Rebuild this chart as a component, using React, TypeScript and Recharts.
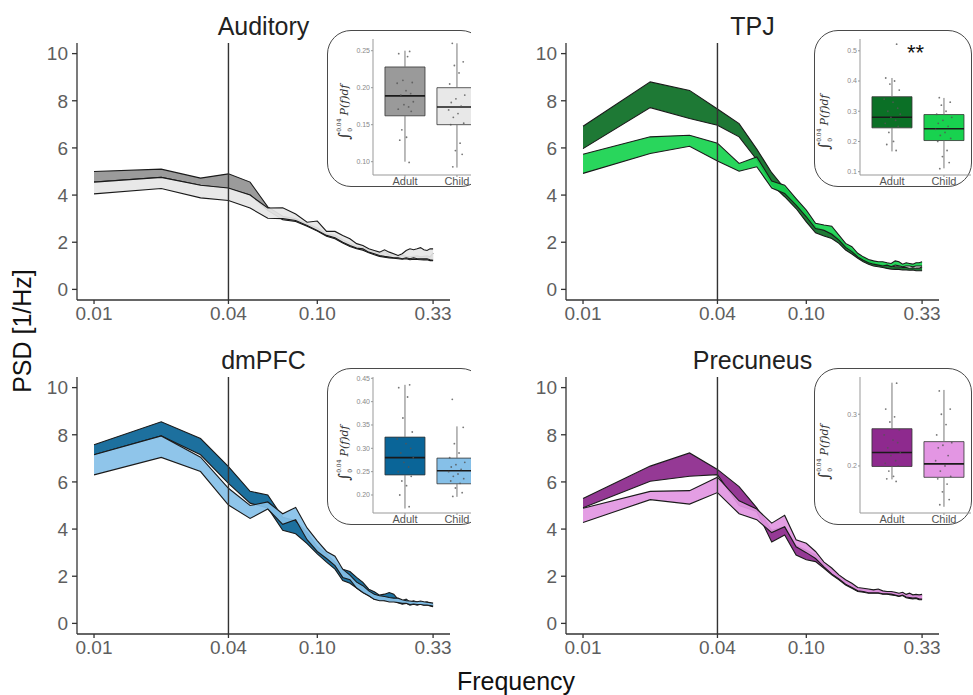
import React from "react";
import {
  Area,
  ComposedChart,
  ReferenceArea,
  ReferenceLine,
  Scatter,
  XAxis,
  YAxis,
} from "recharts";

// frequency bins (Hz)
const FREQS = [
  0.01, 0.02, 0.03, 0.04, 0.05, 0.06, 0.07, 0.08, 0.09, 0.1, 0.11, 0.12, 0.13,
  0.14, 0.15, 0.16, 0.17, 0.18, 0.19, 0.2, 0.21, 0.22, 0.23, 0.24, 0.25, 0.26,
  0.27, 0.28, 0.29, 0.3, 0.31, 0.32, 0.33,
];
const X_TICKS = [0.01, 0.04, 0.1, 0.33];
const Y_TICKS = [0, 2, 4, 6, 8, 10];
const GROUPS = ["Adult", "Child"];

// PSD ribbons: lower / upper bound per group
const AUD_ADULT_LO = [4.55, 4.75, 4.42, 4.28, 4.0, 3.35, 2.95, 2.88, 2.68, 2.48, 2.25, 2.15, 1.97, 1.82, 1.72, 1.66, 1.55, 1.47, 1.4, 1.36, 1.33, 1.32, 1.3, 1.28, 1.3, 1.26, 1.28, 1.27, 1.26, 1.25, 1.26, 1.22, 1.22];
const AUD_ADULT_HI = [5.0, 5.1, 4.72, 4.9, 4.55, 3.5, 3.1, 3.0, 2.78, 2.6, 2.35, 2.3, 2.1, 1.95, 1.82, 1.78, 1.66, 1.58, 1.52, 1.62, 1.45, 1.48, 1.42, 1.45, 1.4, 1.38, 1.4, 1.42, 1.38, 1.4, 1.42, 1.38, 1.55];
const AUD_CHILD_LO = [4.05, 4.28, 3.88, 3.77, 3.45, 3.02, 3.0, 2.92, 2.71, 2.5, 2.29, 2.19, 2.0, 1.86, 1.75, 1.72, 1.58, 1.51, 1.44, 1.4, 1.37, 1.34, 1.34, 1.3, 1.34, 1.3, 1.34, 1.3, 1.3, 1.3, 1.3, 1.26, 1.23];
const AUD_CHILD_HI = [4.55, 4.75, 4.42, 4.3, 4.0, 3.45, 3.46, 3.2, 2.85, 2.9, 2.46, 2.46, 2.29, 2.15, 1.94, 1.86, 1.72, 1.65, 1.58, 1.68, 1.58, 1.51, 1.44, 1.51, 1.65, 1.72, 1.68, 1.72, 1.77, 1.68, 1.65, 1.72, 1.72];

const TPJ_ADULT_LO = [5.97, 7.71, 7.25, 6.96, 6.47, 5.5, 4.45, 3.93, 3.43, 2.86, 2.4, 2.26, 2.16, 1.95, 1.67, 1.5, 1.32, 1.17, 1.07, 0.99, 0.96, 0.93, 0.89, 0.86, 0.85, 0.85, 0.82, 0.82, 0.81, 0.82, 0.79, 0.79, 0.79];
const TPJ_ADULT_HI = [6.92, 8.8, 8.44, 7.65, 7.03, 5.95, 4.95, 4.28, 3.78, 3.22, 2.65, 2.51, 2.37, 2.16, 1.88, 1.67, 1.46, 1.32, 1.21, 1.13, 1.07, 1.03, 1.03, 0.99, 0.96, 0.96, 0.93, 0.93, 0.9, 0.92, 0.9, 0.9, 0.96];
const TPJ_CHILD_LO = [4.92, 5.76, 6.07, 5.45, 5.01, 5.2, 4.3, 4.07, 3.57, 3.08, 2.58, 2.51, 2.34, 2.09, 1.78, 1.6, 1.38, 1.24, 1.13, 1.07, 1.03, 0.99, 1.03, 0.96, 1.03, 1.0, 0.96, 0.99, 0.99, 0.96, 0.99, 0.99, 0.99];
const TPJ_CHILD_HI = [5.73, 6.47, 6.54, 6.2, 5.34, 5.62, 4.6, 4.42, 3.85, 3.36, 2.8, 2.73, 2.68, 2.3, 1.95, 1.81, 1.53, 1.38, 1.27, 1.21, 1.17, 1.17, 1.13, 1.1, 1.21, 1.17, 1.07, 1.13, 1.1, 1.07, 1.13, 1.13, 1.17];

const DMPFC_ADULT_LO = [7.15, 7.95, 7.15, 5.94, 5.1, 4.9, 3.95, 3.8, 3.38, 2.95, 2.6, 2.3, 1.82, 1.7, 1.5, 1.31, 1.17, 1.02, 1.0, 0.96, 0.96, 0.96, 0.88, 0.81, 0.85, 0.77, 0.81, 0.77, 0.81, 0.77, 0.78, 0.74, 0.71];
const DMPFC_ADULT_HI = [7.58, 8.55, 7.84, 6.65, 5.6, 5.45, 4.5, 4.35, 3.85, 3.25, 2.95, 2.6, 2.3, 2.2, 1.95, 1.74, 1.45, 1.34, 1.2, 1.24, 1.31, 1.24, 1.02, 0.96, 1.03, 0.91, 0.96, 0.91, 0.92, 0.88, 0.91, 0.85, 0.81];
const DMPFC_CHILD_LO = [6.3, 7.04, 6.44, 5.02, 4.45, 4.85, 4.2, 4.4, 3.55, 3.05, 2.75, 2.45, 1.95, 1.85, 1.5, 1.31, 1.17, 1.02, 0.96, 0.96, 0.91, 0.91, 0.88, 0.85, 0.85, 0.8, 0.82, 0.8, 0.8, 0.78, 0.78, 0.76, 0.74];
const DMPFC_CHILD_HI = [7.15, 7.95, 7.05, 5.73, 5.0, 5.15, 4.65, 4.92, 4.05, 3.5, 3.05, 2.85, 2.3, 2.05, 1.75, 1.6, 1.38, 1.24, 1.17, 1.14, 1.1, 1.07, 1.07, 1.0, 0.96, 0.95, 0.93, 0.92, 0.95, 0.92, 0.9, 0.88, 0.86];

const PREC_ADULT_LO = [4.9, 6.03, 6.24, 6.31, 5.0, 4.75, 3.45, 3.75, 2.9, 2.7, 2.62, 2.34, 2.06, 1.85, 1.63, 1.49, 1.35, 1.32, 1.28, 1.28, 1.28, 1.24, 1.24, 1.21, 1.18, 1.14, 1.18, 1.09, 1.06, 1.04, 1.06, 1.0, 1.0];
const PREC_ADULT_HI = [5.3, 6.67, 7.23, 6.53, 5.8, 4.9, 3.95, 4.1, 3.3, 3.1, 2.9, 2.5, 2.3, 2.02, 1.8, 1.66, 1.48, 1.45, 1.42, 1.4, 1.42, 1.35, 1.33, 1.32, 1.3, 1.25, 1.3, 1.2, 1.22, 1.16, 1.2, 1.15, 1.18];
const PREC_CHILD_LO = [4.28, 5.25, 5.06, 5.55, 4.65, 4.4, 3.85, 4.1, 3.25, 3.0, 2.75, 2.4, 2.1, 1.88, 1.66, 1.52, 1.38, 1.35, 1.3, 1.3, 1.3, 1.26, 1.26, 1.24, 1.2, 1.16, 1.2, 1.12, 1.1, 1.07, 1.08, 1.04, 1.03];
const PREC_CHILD_HI = [4.88, 5.6, 5.63, 6.2, 5.2, 4.85, 4.25, 4.58, 3.55, 3.4, 3.05, 2.6, 2.35, 2.06, 1.85, 1.7, 1.52, 1.49, 1.46, 1.42, 1.46, 1.38, 1.35, 1.35, 1.32, 1.28, 1.32, 1.23, 1.28, 1.21, 1.23, 1.21, 1.23];

// box stats: [min, q1, median, q3, max] of the integrated power 0–0.04 Hz
const AUD_BOX_ADULT = [0.1, 0.162, 0.189, 0.228, 0.25];
const AUD_BOX_CHILD = [0.092, 0.15, 0.174, 0.2, 0.26];
const TPJ_BOX_ADULT = [0.167, 0.245, 0.28, 0.348, 0.41];
const TPJ_BOX_CHILD = [0.111, 0.203, 0.242, 0.289, 0.344];
const DMPFC_BOX_ADULT = [0.171, 0.243, 0.28, 0.324, 0.436];
const DMPFC_BOX_CHILD = [0.196, 0.224, 0.252, 0.279, 0.347];
const PREC_BOX_ADULT = [0.174, 0.199, 0.226, 0.272, 0.361];
const PREC_BOX_CHILD = [0.121, 0.178, 0.204, 0.247, 0.347];

// individual subjects (jittered points)
const JITTER = [0.09, -0.12, 0.05, -0.04, 0.14, -0.15, 0.02, 0.11, -0.08, 0.16, -0.02, 0.07, -0.13, 0.12, -0.06, 0.03, -0.1, 0.08];
const AUD_PTS_ADULT = [0.249, 0.246, 0.242, 0.21, 0.207, 0.206, 0.196, 0.192, 0.19, 0.181, 0.177, 0.174, 0.171, 0.168, 0.143, 0.133, 0.129, 0.099];
const AUD_PTS_CHILD = [0.26, 0.235, 0.23, 0.22, 0.205, 0.19, 0.185, 0.18, 0.175, 0.17, 0.165, 0.16, 0.152, 0.15, 0.125, 0.115, 0.11, 0.093];
const TPJ_PTS_ADULT = [0.522, 0.41, 0.4, 0.39, 0.37, 0.34, 0.33, 0.31, 0.3, 0.29, 0.28, 0.27, 0.26, 0.25, 0.23, 0.2, 0.19, 0.17];
const TPJ_PTS_CHILD = [0.345, 0.33, 0.32, 0.3, 0.29, 0.28, 0.27, 0.26, 0.25, 0.24, 0.23, 0.22, 0.21, 0.2, 0.17, 0.15, 0.13, 0.11];
const DMPFC_PTS_ADULT = [0.436, 0.43, 0.41, 0.365, 0.335, 0.32, 0.31, 0.3, 0.29, 0.28, 0.27, 0.26, 0.25, 0.24, 0.23, 0.22, 0.2, 0.175];
const DMPFC_PTS_CHILD = [0.405, 0.345, 0.31, 0.29, 0.28, 0.27, 0.265, 0.26, 0.255, 0.25, 0.245, 0.24, 0.235, 0.23, 0.225, 0.215, 0.205, 0.197];
const PREC_PTS_ADULT = [0.36, 0.31, 0.295, 0.285, 0.27, 0.26, 0.25, 0.245, 0.235, 0.225, 0.22, 0.21, 0.205, 0.2, 0.19, 0.18, 0.175, 0.17];
const PREC_PTS_CHILD = [0.345, 0.31, 0.3, 0.28, 0.26, 0.245, 0.24, 0.235, 0.22, 0.21, 0.2, 0.19, 0.18, 0.175, 0.165, 0.15, 0.135, 0.125];

const X_DOMAIN: [number, number] = [0.00839, 0.3929];
const Y_DOMAIN: [number, number] = [-0.45, 10.45];
const BOX_HALF = 0.385;
const AXIS = "#333";
const TICK_TEXT = "#5e5e5e";

function buildRows(aLo: number[], aHi: number[], cLo: number[], cHi: number[]) {
  return FREQS.map((f, i) => ({
    f,
    adult: [aLo[i], aHi[i]],
    child: [cLo[i], cHi[i]],
  }));
}

function Panel({ left, top, title, rows, adultColor, childColor }: any) {
  return (
    <div style={{ position: "absolute", left, top, width: 430, height: 330 }}>
      <ComposedChart
        width={430}
        height={330}
        data={rows}
        margin={{ top: 43, right: 10, bottom: 0, left: 0 }}
      >
        <XAxis
          dataKey="f"
          type="number"
          scale="log"
          domain={X_DOMAIN}
          allowDataOverflow
          ticks={X_TICKS}
          interval={0}
          tickFormatter={(v: number) => v.toFixed(2)}
          height={30}
          tickSize={4}
          tickMargin={3}
          axisLine={{ stroke: AXIS, strokeWidth: 1.3 }}
          tickLine={{ stroke: AXIS, strokeWidth: 1.3 }}
          tick={{ fill: TICK_TEXT, fontSize: 19 }}
        />
        <YAxis
          type="number"
          domain={Y_DOMAIN}
          allowDataOverflow
          ticks={Y_TICKS}
          interval={0}
          width={47}
          tickSize={5}
          tickMargin={4}
          axisLine={{ stroke: AXIS, strokeWidth: 1.3 }}
          tickLine={{ stroke: AXIS, strokeWidth: 1.3 }}
          tick={{ fill: TICK_TEXT, fontSize: 19 }}
        />
        <Area
          type="linear"
          dataKey="adult"
          fill={adultColor}
          fillOpacity={0.92}
          stroke="#1a1a1a"
          strokeWidth={1.1}
          dot={false}
          activeDot={false}
          isAnimationActive={false}
        />
        <Area
          type="linear"
          dataKey="child"
          fill={childColor}
          fillOpacity={0.92}
          stroke="#1a1a1a"
          strokeWidth={1.1}
          dot={false}
          activeDot={false}
          isAnimationActive={false}
        />
        <ReferenceLine x={0.04} stroke={AXIS} strokeWidth={1.4} />
      </ComposedChart>
      <div
        style={{
          position: "absolute",
          left: 47,
          width: 373,
          top: 14,
          textAlign: "center",
          fontSize: 25,
          lineHeight: "25px",
          color: "#222",
        }}
      >
        {title}
      </div>
    </div>
  );
}

function Inset({
  left,
  top,
  clipWidth,
  domain,
  ticks,
  digits,
  adultBox,
  childBox,
  adultPts,
  childPts,
  adultColor,
  childColor,
  labelX,
  labelY,
  stars,
}: any) {
  const pts = [
    ...adultPts.map((v: number, i: number) => ({ x: 1 + JITTER[i], y: v })),
    ...childPts.map((v: number, i: number) => ({ x: 2 - JITTER[i], y: v })),
  ];
  const boxes = [
    { c: 1, s: adultBox, color: adultColor },
    { c: 2, s: childBox, color: childColor },
  ];
  return (
    <div
      style={{
        position: "absolute",
        left,
        top,
        width: clipWidth,
        height: 158,
        overflow: "hidden",
        zIndex: 2,
      }}
    >
      <div
        style={{
          position: "absolute",
          left: 0,
          top: 0,
          width: 158,
          height: 157,
          boxSizing: "border-box",
          border: "1.5px solid #4a4a4a",
          borderRadius: 24,
          background: "#fff",
        }}
      />
      <div style={{ position: "absolute", left: 0, top: 0 }}>
        <ComposedChart
          width={158}
          height={157}
          margin={{ top: 9, right: 1, bottom: 0, left: 0 }}
        >
          <XAxis
            dataKey="x"
            type="number"
            domain={[0.385, 2.52]}
            allowDataOverflow
            ticks={[1, 2]}
            interval={0}
            tickFormatter={(v: number) => GROUPS[v - 1]}
            height={12}
            tickSize={2}
            tickMargin={0}
            axisLine={{ stroke: "#999", strokeWidth: 1 }}
            tickLine={{ stroke: "#999" }}
            tick={{ fill: "#555", fontSize: 11 }}
          />
          <YAxis
            dataKey="y"
            type="number"
            domain={domain}
            allowDataOverflow
            ticks={ticks}
            interval={0}
            tickFormatter={(v: number) => v.toFixed(digits)}
            width={46}
            tickSize={2}
            tickMargin={1}
            axisLine={{ stroke: "#999", strokeWidth: 1 }}
            tickLine={{ stroke: "#999" }}
            tick={{ fill: "#888", fontSize: 7 }}
          />
          {boxes.map((b) => (
            <ReferenceLine
              key={`wl-${b.c}`}
              segment={[
                { x: b.c, y: b.s[0] },
                { x: b.c, y: b.s[1] },
              ]}
              stroke="#777"
              strokeWidth={1}
              ifOverflow="visible"
            />
          ))}
          {boxes.map((b) => (
            <ReferenceLine
              key={`wu-${b.c}`}
              segment={[
                { x: b.c, y: b.s[3] },
                { x: b.c, y: b.s[4] },
              ]}
              stroke="#777"
              strokeWidth={1}
              ifOverflow="visible"
            />
          ))}
          {boxes.map((b) => (
            <ReferenceArea
              key={`box-${b.c}`}
              x1={b.c - BOX_HALF}
              x2={b.c + BOX_HALF}
              y1={b.s[1]}
              y2={b.s[3]}
              fill={b.color}
              fillOpacity={1}
              stroke="#333"
              strokeWidth={0.8}
              ifOverflow="visible"
            />
          ))}
          {boxes.map((b) => (
            <ReferenceLine
              key={`med-${b.c}`}
              segment={[
                { x: b.c - BOX_HALF, y: b.s[2] },
                { x: b.c + BOX_HALF, y: b.s[2] },
              ]}
              stroke="#1a1a1a"
              strokeWidth={1.6}
              ifOverflow="visible"
            />
          ))}
          <Scatter
            data={pts}
            isAnimationActive={false}
            shape={(p: any) => (
              <circle cx={p.cx} cy={p.cy} r={0.9} fill="#555" fillOpacity={0.8} />
            )}
          />
        </ComposedChart>
      </div>
      <div
        style={{
          position: "absolute",
          left: labelX,
          top: labelY,
          transform: "translate(-50%, -50%) rotate(-90deg)",
          whiteSpace: "nowrap",
          display: "flex",
          alignItems: "center",
          fontFamily: '"DejaVu Serif", serif',
          color: "#333",
        }}
      >
        <span style={{ fontSize: 15, lineHeight: 1 }}>∫</span>
        <span
          style={{
            display: "inline-flex",
            flexDirection: "column",
            fontSize: 6,
            lineHeight: 1,
            marginRight: 3,
          }}
        >
          <span>0.04</span>
          <span style={{ marginTop: 5 }}>0</span>
        </span>
        <span style={{ fontStyle: "italic", fontSize: 11 }}>P(f)df</span>
      </div>
      {stars ? (
        <div
          style={{
            position: "absolute",
            left: 93,
            top: 12,
            fontSize: 22,
            lineHeight: "22px",
            color: "#111",
          }}
        >
          **
        </div>
      ) : null}
    </div>
  );
}

export default function App() {
  const aud = buildRows(AUD_ADULT_LO, AUD_ADULT_HI, AUD_CHILD_LO, AUD_CHILD_HI);
  const tpj = buildRows(TPJ_ADULT_LO, TPJ_ADULT_HI, TPJ_CHILD_LO, TPJ_CHILD_HI);
  const dmpfc = buildRows(DMPFC_ADULT_LO, DMPFC_ADULT_HI, DMPFC_CHILD_LO, DMPFC_CHILD_HI);
  const prec = buildRows(PREC_ADULT_LO, PREC_ADULT_HI, PREC_CHILD_LO, PREC_CHILD_HI);

  return (
    <div
      style={{
        position: "relative",
        width: 973,
        height: 695,
        overflow: "hidden",
        background: "#fff",
        fontFamily: '"Liberation Sans", Arial, sans-serif',
      }}
    >
      <style>{"body{margin:0}"}</style>
      <Panel left={30} top={0} title="Auditory" rows={aud} adultColor="#939393" childColor="#e6e6e6" />
      <Panel left={519} top={0} title="TPJ" rows={tpj} adultColor="#0b6e24" childColor="#17d24e" />
      <Panel left={30} top={334} title="dmPFC" rows={dmpfc} adultColor="#0a6496" childColor="#86c0e8" />
      <Panel left={519} top={334} title="Precuneus" rows={prec} adultColor="#8c288c" childColor="#e296e2" />

      <Inset
        left={327}
        top={30}
        clipWidth={144}
        domain={[0.082, 0.2658]}
        ticks={[0.1, 0.15, 0.2, 0.25]}
        digits={2}
        adultBox={AUD_BOX_ADULT}
        childBox={AUD_BOX_CHILD}
        adultPts={AUD_PTS_ADULT}
        childPts={AUD_PTS_CHILD}
        adultColor="#9a9a9a"
        childColor="#e8e8e8"
        labelX={17}
        labelY={82}
      />
      <Inset
        left={814}
        top={30}
        clipWidth={160}
        domain={[0.089, 0.539]}
        ticks={[0.1, 0.2, 0.3, 0.4, 0.5]}
        digits={1}
        adultBox={TPJ_BOX_ADULT}
        childBox={TPJ_BOX_CHILD}
        adultPts={TPJ_PTS_ADULT}
        childPts={TPJ_PTS_CHILD}
        adultColor="#0b7026"
        childColor="#18d24f"
        labelX={10}
        labelY={92}
        stars
      />
      <Inset
        left={327}
        top={368}
        clipWidth={144}
        domain={[0.1614, 0.4528]}
        ticks={[0.2, 0.25, 0.3, 0.35, 0.4, 0.45]}
        digits={2}
        adultBox={DMPFC_BOX_ADULT}
        childBox={DMPFC_BOX_CHILD}
        adultPts={DMPFC_PTS_ADULT}
        childPts={DMPFC_PTS_CHILD}
        adultColor="#0a6598"
        childColor="#86c0e8"
        labelX={17}
        labelY={85}
      />
      <Inset
        left={814}
        top={368}
        clipWidth={160}
        domain={[0.109, 0.372]}
        ticks={[0.2, 0.3]}
        digits={1}
        adultBox={PREC_BOX_ADULT}
        childBox={PREC_BOX_CHILD}
        adultPts={PREC_PTS_ADULT}
        childPts={PREC_PTS_CHILD}
        adultColor="#8e2a8e"
        childColor="#e396e3"
        labelX={10}
        labelY={84}
      />

      <div
        style={{
          position: "absolute",
          left: 22,
          top: 331,
          transform: "translate(-50%, -50%) rotate(-90deg)",
          whiteSpace: "nowrap",
          fontSize: 25,
          lineHeight: "25px",
          color: "#111",
        }}
      >
        PSD [1/Hz]
      </div>
      <div
        style={{
          position: "absolute",
          left: 416,
          width: 200,
          top: 669,
          textAlign: "center",
          fontSize: 25,
          lineHeight: "25px",
          color: "#111",
        }}
      >
        Frequency
      </div>
    </div>
  );
}
